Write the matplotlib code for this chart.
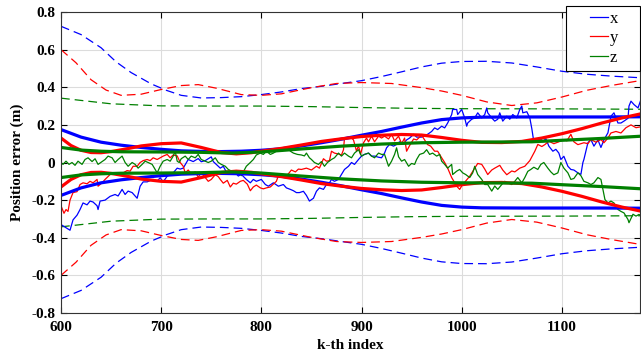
import numpy as np
import matplotlib
matplotlib.use("Agg")
import matplotlib.pyplot as plt
from matplotlib.legend_handler import HandlerLine2D

# error traces (k index, error in m)
x_k = [600, 603, 606, 609, 612, 616, 619, 622, 626, 629, 632, 636, 637, 639, 644, 649, 654, 657, 661, 664,
       667, 671, 676, 679, 682, 686, 689, 692, 696, 699, 702, 706, 709, 712, 716, 719, 722, 727, 732, 737,
       740, 744, 747, 750, 752, 755, 759, 762, 765, 769, 774, 777, 780, 785, 789, 792, 795, 800, 804, 807,
       812, 817, 822, 825, 829, 832, 835, 838, 842, 845, 848, 852, 855, 858, 862, 865, 868, 870, 873, 877,
       880, 883, 887, 890, 893, 897, 900, 903, 907, 910, 913, 917, 920, 923, 925, 928, 932, 935, 938, 942,
       945, 948, 952, 955, 960, 966, 970, 973, 976, 980, 983, 986, 990, 991, 995, 996, 1000, 1003, 1005, 1006,
       1010, 1013, 1016, 1020, 1023, 1025, 1026, 1030, 1033, 1036, 1038, 1041, 1045, 1048, 1051, 1055, 1058, 1060, 1061, 1065,
       1068, 1070, 1072, 1075, 1078, 1081, 1084, 1087, 1091, 1094, 1097, 1099, 1102, 1106, 1109, 1112, 1116, 1119, 1121, 1122,
       1126, 1129, 1132, 1136, 1139, 1142, 1146, 1149, 1152, 1156, 1159, 1162, 1166, 1167, 1169, 1172, 1176, 1179]
x_err = [-0.33, -0.34, -0.35, -0.36, -0.305, -0.28, -0.25, -0.215, -0.225, -0.205, -0.21, -0.23, -0.25, -0.205, -0.2, -0.18, -0.17, -0.178, -0.143, -0.17,
         -0.152, -0.16, -0.19, -0.126, -0.103, -0.103, -0.096, -0.09, -0.099, -0.081, -0.103, -0.073, -0.064, -0.055, -0.03, -0.035, -0.03, 0.016, 0.005, 0.021,
         0.004, 0.01, 0.02, 0.03, 0.005, -0.01, -0.03, -0.02, -0.05, -0.055, -0.055, -0.072, -0.063, -0.09, -0.108, -0.09, -0.1, -0.09, -0.117, -0.126,
         -0.108, -0.126, -0.117, -0.135, -0.143, -0.15, -0.16, -0.16, -0.153, -0.175, -0.205, -0.19, -0.153, -0.135, -0.143, -0.117, -0.108, -0.09, -0.1, -0.09,
         -0.064, -0.037, -0.02, 0.0, -0.01, 0.016, 0.034, 0.043, 0.05, 0.034, 0.034, 0.028, 0.025, 0.05, 0.078, 0.096, 0.087, 0.096, 0.11, 0.1,
         0.12, 0.13, 0.15, 0.135, 0.135, 0.15, 0.165, 0.184, 0.175, 0.193, 0.184, 0.21, 0.255, 0.282, 0.282, 0.255, 0.282, 0.237, 0.193, 0.21,
         0.23, 0.237, 0.264, 0.237, 0.255, 0.29, 0.264, 0.237, 0.22, 0.23, 0.264, 0.22, 0.246, 0.23, 0.255, 0.237, 0.282, 0.3, 0.264, 0.27,
         0.237, 0.18, 0.11, 0.12, 0.13, 0.11, 0.127, 0.087, 0.06, 0.07, 0.05, 0.016, 0.033, -0.02, -0.037, -0.04, -0.055, -0.063, 0.0, 0.016,
         0.105, 0.122, 0.087, 0.12, 0.08, 0.12, 0.158, 0.246, 0.264, 0.21, 0.21, 0.22, 0.235, 0.3, 0.326, 0.308, 0.29, 0.335]

y_k = [600, 603, 605, 607, 609, 612, 616, 619, 622, 626, 629, 632, 636, 637, 641, 644, 649, 652, 656, 659,
       662, 666, 669, 672, 676, 679, 682, 686, 689, 692, 696, 699, 702, 706, 709, 712, 716, 719, 722, 724,
       727, 730, 734, 737, 740, 744, 747, 750, 754, 757, 759, 762, 766, 769, 772, 775, 779, 782, 786, 789,
       792, 795, 799, 802, 805, 809, 812, 815, 817, 820, 824, 827, 830, 834, 837, 840, 845, 850, 855, 858,
       862, 865, 868, 870, 873, 877, 880, 882, 883, 887, 890, 892, 895, 897, 899, 902, 905, 907, 910, 913,
       917, 920, 923, 927, 930, 933, 937, 940, 943, 945, 948, 952, 955, 960, 966, 969, 973, 976, 980, 983,
       986, 990, 993, 995, 998, 1000, 1003, 1008, 1013, 1016, 1020, 1023, 1026, 1030, 1033, 1038, 1041, 1045, 1050, 1053,
       1058, 1063, 1068, 1071, 1073, 1076, 1080, 1083, 1087, 1092, 1097, 1102, 1105, 1109, 1112, 1116, 1119, 1122, 1126, 1129,
       1134, 1139, 1142, 1146, 1149, 1154, 1159, 1164, 1169, 1174, 1179]
y_err = [-0.23, -0.27, -0.25, -0.26, -0.2, -0.16, -0.155, -0.117, -0.108, -0.113, -0.1, -0.108, -0.09, -0.126, -0.108, -0.09, -0.064, -0.06, -0.055, -0.055,
         -0.055, -0.043, -0.046, -0.02, -0.02, 0.0, 0.01, 0.016, 0.01, 0.025, 0.016, 0.025, 0.034, 0.043, 0.025, 0.04, 0.035, 0.0, -0.02, -0.055,
         -0.04, -0.06, -0.05, -0.078, -0.055, -0.08, -0.1, -0.09, -0.065, -0.075, -0.09, -0.11, -0.095, -0.13, -0.11, -0.115, -0.1, -0.095, -0.115, -0.15,
         -0.13, -0.12, -0.135, -0.14, -0.135, -0.13, -0.115, -0.1, -0.07, -0.064, -0.075, -0.06, -0.04, -0.05, -0.035, -0.037, -0.03, -0.04, -0.02, -0.03,
         0.02, 0.007, 0.01, 0.06, 0.05, 0.045, 0.04, 0.068, 0.13, 0.135, 0.13, 0.12, 0.06, 0.09, 0.043, 0.105, 0.13, 0.11, 0.14, 0.11,
         0.14, 0.13, 0.14, 0.125, 0.15, 0.115, 0.14, 0.1, 0.13, 0.06, 0.09, 0.125, 0.12, 0.145, 0.095, 0.087, 0.06, 0.06, 0.025, 0.0,
         -0.03, -0.08, -0.108, -0.126, -0.143, -0.125, -0.105, -0.073, -0.03, -0.005, -0.01, -0.035, -0.064, -0.04, -0.03, -0.015, -0.04, -0.065, -0.045, -0.05,
         -0.03, -0.02, 0.01, 0.04, 0.06, 0.096, 0.085, 0.095, 0.113, 0.1, 0.11, 0.122, 0.115, 0.15, 0.11, 0.095, 0.1, 0.105, 0.1, 0.122,
         0.108, 0.122, 0.105, 0.13, 0.157, 0.165, 0.157, 0.185, 0.2, 0.185, 0.19]

z_k = [600, 602, 605, 608, 611, 614, 617, 621, 624, 627, 631, 634, 637, 641, 644, 647, 651, 654, 657, 661,
       664, 667, 671, 674, 677, 681, 684, 687, 691, 694, 696, 699, 702, 706, 709, 712, 714, 716, 718, 720,
       724, 727, 730, 734, 737, 740, 744, 747, 750, 754, 757, 760, 764, 767, 770, 774, 777, 780, 783, 785,
       789, 792, 795, 799, 802, 805, 809, 812, 815, 819, 822, 826, 829, 832, 836, 840, 843, 845, 848, 850,
       853, 857, 860, 863, 866, 870, 873, 877, 880, 883, 887, 890, 893, 897, 900, 903, 907, 910, 913, 917,
       920, 923, 927, 930, 933, 935, 937, 940, 943, 947, 950, 953, 955, 958, 962, 965, 968, 971, 975, 978,
       980, 983, 986, 990, 991, 995, 998, 1001, 1004, 1008, 1011, 1013, 1016, 1020, 1023, 1026, 1030, 1033, 1036, 1040,
       1043, 1046, 1050, 1053, 1056, 1060, 1063, 1066, 1069, 1072, 1076, 1079, 1082, 1086, 1089, 1092, 1096, 1099, 1102, 1106,
       1109, 1112, 1116, 1119, 1122, 1126, 1129, 1132, 1136, 1139, 1141, 1143, 1146, 1149, 1152, 1156, 1159, 1162, 1166, 1167,
       1171, 1174, 1177, 1179]
z_err = [0.0, -0.01, 0.007, -0.01, 0.0, -0.015, 0.007, -0.01, 0.016, 0.025, 0.005, 0.02, -0.01, 0.005, 0.016, 0.034, 0.025, 0.0, 0.016, 0.034,
         0.0, -0.02, 0.0, -0.01, -0.03, -0.01, 0.007, 0.0, -0.01, -0.037, -0.055, -0.02, 0.007, 0.016, 0.007, 0.034, 0.06, 0.007, 0.0, 0.02,
         0.034, 0.016, 0.034, 0.025, 0.043, 0.016, 0.007, 0.0, 0.007, 0.025, 0.0, -0.01, -0.02, -0.037, -0.045, -0.055, -0.045, -0.07, -0.04, -0.02,
         0.0, 0.016, 0.04, 0.05, 0.043, 0.06, 0.043, 0.05, 0.06, 0.06, 0.07, 0.08, 0.06, 0.05, 0.043, 0.04, 0.035, 0.05, 0.025, 0.016,
         0.0, -0.01, 0.005, -0.02, 0.0, 0.016, 0.025, 0.05, 0.034, 0.05, 0.034, 0.025, 0.05, 0.068, 0.034, 0.043, 0.05, 0.034, 0.025, 0.05,
         0.043, 0.043, -0.02, 0.007, 0.043, 0.078, 0.03, 0.007, 0.016, -0.02, -0.005, -0.01, 0.016, 0.043, 0.05, 0.068, 0.043, 0.05, 0.034, 0.043,
         0.007, -0.01, -0.03, -0.01, -0.064, -0.046, -0.037, -0.055, -0.064, -0.08, -0.055, -0.02, -0.064, -0.09, -0.117, -0.117, -0.152, -0.125, -0.143, -0.117,
         -0.1, -0.108, -0.117, -0.1, -0.08, -0.108, -0.08, -0.047, -0.037, -0.025, -0.037, -0.01, 0.0, -0.03, -0.05, -0.065, -0.055, 0.0, -0.03, -0.055,
         -0.09, -0.085, -0.055, -0.07, -0.1, -0.108, -0.117, -0.108, -0.08, -0.09, -0.143, -0.197, -0.215, -0.205, -0.215, -0.25, -0.26, -0.268, -0.303, -0.32,
         -0.275, -0.285, -0.276, -0.283]

# inner bounds (thick, plotted as +/-)
bx_k = [600, 620, 640, 660, 680, 700, 720, 740, 760, 780, 800, 820, 840, 860, 880, 900, 920, 940, 960, 980, 1000, 1020, 1060, 1100, 1140, 1180]
bx_s = [0.175, 0.135, 0.108, 0.092, 0.08, 0.07, 0.062, 0.059, 0.058, 0.06, 0.065, 0.073, 0.088, 0.105, 0.124, 0.145, 0.165, 0.188, 0.21, 0.228, 0.237, 0.241, 0.242, 0.242, 0.242, 0.243]
by_k = [600, 610, 620, 630, 640, 650, 665, 680, 700, 720, 740, 760, 775, 790, 800, 820, 840, 860, 880, 900, 920, 940, 960, 980, 1000, 1020, 1040, 1060, 1080, 1100, 1120, 1140, 1160, 1180]
by_s = [0.13, 0.09, 0.065, 0.053, 0.052, 0.058, 0.072, 0.088, 0.1, 0.104, 0.08, 0.053, 0.046, 0.052, 0.06, 0.075, 0.093, 0.112, 0.126, 0.138, 0.145, 0.149, 0.146, 0.133, 0.118, 0.107, 0.106, 0.112, 0.13, 0.153, 0.18, 0.21, 0.237, 0.26]
bz_k = [600, 620, 640, 660, 700, 740, 770, 800, 840, 880, 920, 960, 1000, 1040, 1070, 1100, 1140, 1180]
bz_s = [0.08, 0.066, 0.06, 0.057, 0.056, 0.054, 0.05, 0.056, 0.072, 0.087, 0.098, 0.105, 0.108, 0.109, 0.11, 0.118, 0.128, 0.14]

# outer bounds (dashed, plotted as +/-)
dx_k = [600, 620, 640, 655, 670, 690, 705, 720, 740, 760, 780, 800, 820, 840, 860, 880, 900, 920, 940, 960, 980, 1000, 1025, 1050, 1075, 1100, 1125, 1150, 1180]
dx_s = [0.724, 0.68, 0.61, 0.535, 0.478, 0.418, 0.384, 0.357, 0.343, 0.345, 0.35, 0.361, 0.375, 0.393, 0.405, 0.42, 0.435, 0.457, 0.482, 0.508, 0.528, 0.537, 0.538, 0.529, 0.508, 0.485, 0.469, 0.459, 0.45]
dy_k = [600, 615, 630, 645, 660, 680, 700, 720, 737, 755, 780, 800, 820, 850, 875, 900, 930, 960, 980, 1000, 1025, 1050, 1075, 1100, 1125, 1150, 1180]
dy_s = [0.6, 0.53, 0.44, 0.385, 0.357, 0.363, 0.388, 0.409, 0.414, 0.395, 0.361, 0.357, 0.365, 0.398, 0.42, 0.425, 0.42, 0.398, 0.38, 0.357, 0.322, 0.303, 0.317, 0.348, 0.384, 0.41, 0.437]
dz_k = [600, 650, 700, 750, 800, 850, 900, 950, 1000, 1100, 1180]
dz_s = [0.342, 0.312, 0.301, 0.3, 0.3, 0.297, 0.292, 0.288, 0.286, 0.285, 0.283]

blue = (0, 0, 1)
red = (1, 0, 0)
green = (0, 0.5, 0)


# MATLAB-like legend: short line at the right end of a wide handle box
class ShortLine(HandlerLine2D):
    def create_artists(self, legend, orig_handle, xdescent, ydescent, width, height, fontsize, trans):
        arts = super().create_artists(legend, orig_handle, xdescent, ydescent, width, height, fontsize, trans)
        x0 = -xdescent
        yv = arts[0].get_ydata()[0]
        arts[0].set_data([x0 + 0.52 * width, x0 + width], [yv, yv])
        return arts


plt.rcParams['font.family'] = 'Liberation Serif'

fig = plt.figure(figsize=(6.41, 3.54), dpi=100)
ax = fig.add_axes([61 / 641, 1 - 313 / 354, 579 / 641, 301 / 354])

# dashed outer bounds
for k, s, c in [(dx_k, dx_s, blue), (dy_k, dy_s, red), (dz_k, dz_s, green)]:
    s = np.array(s)
    ax.plot(k, s, color=c, lw=0.9, dashes=(7, 4))
    ax.plot(k, -s, color=c, lw=0.9, dashes=(7, 4))

# thin error traces
ax.plot(x_k, x_err, color=blue, lw=0.9, label='x')
ax.plot(y_k, y_err, color=red, lw=0.9, label='y')
ax.plot(z_k, z_err, color=green, lw=0.9, label='z')

# thick bounds
for k, s, c in [(bx_k, bx_s, blue), (by_k, by_s, red), (bz_k, bz_s, green)]:
    s = np.array(s)
    ax.plot(k, s, color=c, lw=2.3)
    ax.plot(k, -s, color=c, lw=2.3)

ax.set_xlim(600, 1178)
ax.set_ylim(-0.8, 0.8)
ax.set_xticks([600, 700, 800, 900, 1000, 1100])
ax.set_xticklabels(['600', '700', '800', '900', '1000', '1100'], fontweight='bold', fontsize=11)
yt = [-0.8, -0.6, -0.4, -0.2, 0, 0.2, 0.4, 0.6, 0.8]
ax.set_yticks(yt)
ax.set_yticklabels(['-0.8', '-0.6', '-0.4', '-0.2', '0', '0.2', '0.4', '0.6', '0.8'], fontweight='bold', fontsize=11)
ax.tick_params(direction='in', top=True, right=True, length=4, width=0.8)
ax.tick_params(axis='x', pad=6)
ax.tick_params(axis='y', pad=4)
ax.grid(True, color='#dcdcdc', lw=0.8)
ax.set_axisbelow(True)
for sp in ax.spines.values():
    sp.set_linewidth(0.8)
    sp.set_color('#333333')

ax.set_xlabel('k-th index', fontweight='bold', fontsize=11)
ax.xaxis.set_label_coords(0.5, -0.088)
ax.set_ylabel('Position error (m)', fontweight='bold', fontsize=11)
ax.yaxis.set_label_coords(-0.064, 0.5)

leg = ax.legend(loc='upper right', bbox_to_anchor=(640 / 641, 1 - 6 / 354), bbox_transform=fig.transFigure,
                fontsize=12, frameon=True, fancybox=False, framealpha=1, edgecolor='black',
                handlelength=2.2, handletextpad=0.15, borderpad=0.3, labelspacing=0.2, borderaxespad=0,
                handler_map={plt.Line2D: ShortLine()})
for t in leg.get_texts():
    t.set_text(t.get_text() + '    ')
leg.get_frame().set_linewidth(0.8)

fig.savefig('out.png', dpi=100)
